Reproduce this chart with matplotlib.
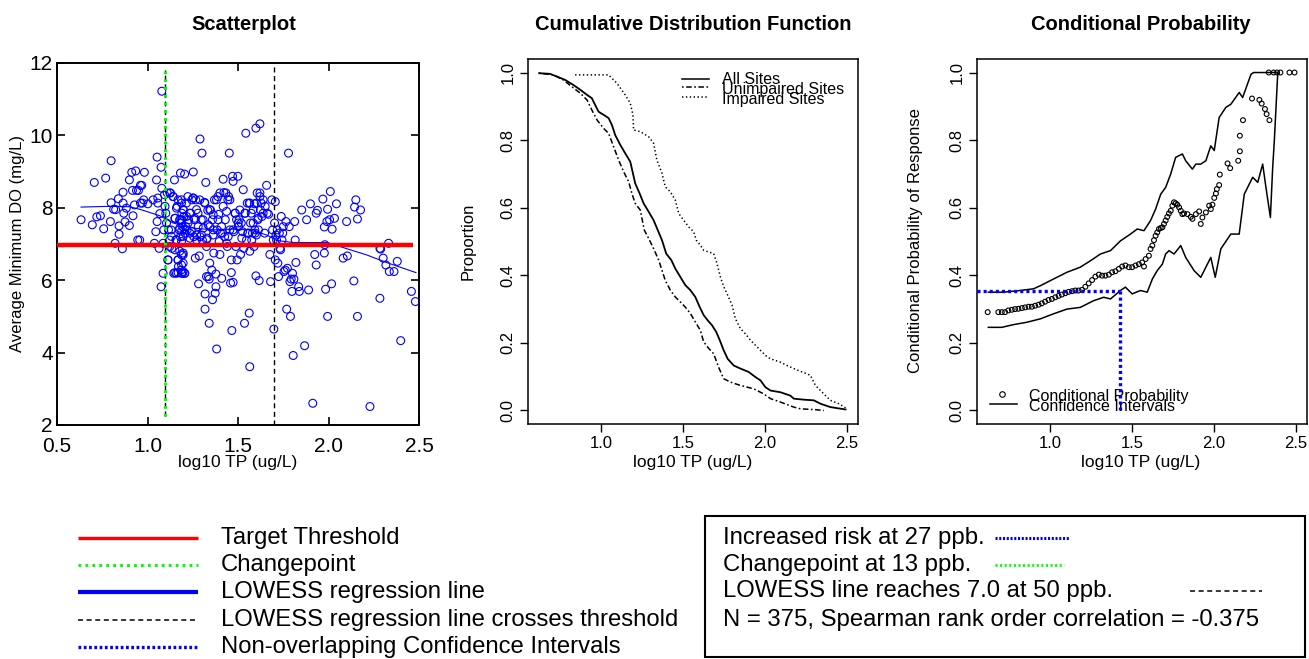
import matplotlib
matplotlib.use("Agg")
import matplotlib.pyplot as plt
from matplotlib.patches import Rectangle

plt.rcParams["font.family"] = ["Liberation Sans", "DejaVu Sans"]
plt.rcParams["lines.scale_dashes"] = False

# ---- Scatterplot data: log10 TP vs average minimum DO ----
tp_log = [
    0.633, 0.695, 0.706, 0.72, 0.74, 0.758, 0.769, 0.799, 0.799, 0.795, 0.813, 0.824, 0.821,
    0.839, 0.843, 0.843, 0.861, 0.865, 0.865, 0.869, 0.876, 0.883, 0.90, 0.90, 0.913, 0.917,
    0.92, 0.928, 0.935, 0.939, 0.946, 0.95, 0.957, 0.961, 0.961, 0.968, 0.972, 0.979, 0.983,
    1.002, 1.031, 1.038, 1.046, 1.05, 1.053, 1.053, 1.057, 1.057, 1.064, 1.068, 1.075, 1.075,
    1.079, 1.079, 1.086, 1.086, 1.09, 1.094, 1.097, 1.101, 1.105, 1.109, 1.112, 1.116, 1.123,
    1.127, 1.131, 1.134, 1.142, 1.145, 1.149, 1.153, 1.157, 1.16, 1.164, 1.168, 1.171, 1.175,
    1.179, 1.182, 1.182, 1.186, 1.19, 1.194, 1.194, 1.197, 1.201, 1.205, 1.205, 1.208, 1.212,
    1.216, 1.219, 1.223, 1.227, 1.234, 1.238, 1.245, 1.253, 1.253, 1.256, 1.26, 1.264, 1.267,
    1.271, 1.279, 1.282, 1.286, 1.29, 1.29, 1.297, 1.301, 1.304, 1.308, 1.315, 1.318, 1.318,
    1.322, 1.326, 1.326, 1.33, 1.333, 1.337, 1.341, 1.341, 1.344, 1.344, 1.348, 1.355, 1.359,
    1.359, 1.363, 1.366, 1.37, 1.374, 1.378, 1.378, 1.382, 1.385, 1.389, 1.393, 1.396, 1.40,
    1.404, 1.41, 1.414, 1.418, 1.422, 1.426, 1.43, 1.433, 1.437, 1.441, 1.444, 1.448, 1.452,
    1.455, 1.459, 1.463, 1.463, 1.466, 1.47, 1.473, 1.473, 1.477, 1.485, 1.488, 1.492, 1.495,
    1.499, 1.503, 1.507, 1.51, 1.514, 1.518, 1.521, 1.525, 1.529, 1.532, 1.536, 1.54, 1.543,
    1.547, 1.551, 1.554, 1.562, 1.562, 1.565, 1.565, 1.569, 1.573, 1.576, 1.58, 1.584, 1.588,
    1.591, 1.595, 1.599, 1.599, 1.602, 1.606, 1.61, 1.613, 1.617, 1.621, 1.621, 1.624, 1.628,
    1.632, 1.639, 1.647, 1.65, 1.658, 1.661, 1.669, 1.676, 1.68, 1.687, 1.691, 1.695, 1.698,
    1.702, 1.706, 1.706, 1.71, 1.713, 1.717, 1.72, 1.724, 1.728, 1.732, 1.735, 1.739, 1.743,
    1.747, 1.75, 1.754, 1.761, 1.765, 1.769, 1.773, 1.779, 1.783, 1.787, 1.79, 1.794, 1.798,
    1.801, 1.805, 1.809, 1.813, 1.816, 1.82, 1.835, 1.839, 1.852, 1.868, 1.879, 1.89, 1.90,
    1.913, 1.924, 1.932, 1.932, 1.939, 1.969, 1.977, 1.977, 1.98, 1.984, 1.991, 1.995, 1.995,
    2.006, 2.01, 2.017, 2.02, 2.033, 2.044, 2.081, 2.10, 2.104, 2.14, 2.144, 2.151, 2.16, 2.16,
    2.177, 2.229, 2.284, 2.284, 2.288, 2.302, 2.317, 2.332, 2.336, 2.362, 2.38, 2.399, 2.458,
    2.48,
    # dense cluster near the changepoint
    1.123, 1.141, 1.169, 1.188, 1.160, 1.197, 1.151, 1.178, 1.188, 1.178, 1.188, 1.132, 1.160,
    1.188, 1.123, 1.151, 1.178, 1.197, 1.169, 1.188, 1.197, 1.151, 1.169, 1.114,
    1.188, 1.215, 1.252, 1.197, 1.234, 1.271, 1.188, 1.224, 1.261, 1.206, 1.243, 1.280, 1.197,
    1.234, 1.271, 1.188, 1.197, 1.188, 1.206, 1.289, 1.317, 1.344, 1.363, 1.307, 1.335, 1.363,
    1.298, 1.326, 1.381, 1.400, 1.418, 1.437, 1.455, 1.483, 1.501, 1.473, 1.446, 1.409, 1.390,
    1.538, 1.565, 1.584, 1.611, 1.621, 1.639, 1.593, 1.556, 1.602,
]
do_min = [
    7.67, 7.53, 8.70, 7.75, 7.78, 7.42, 8.82, 9.30, 8.14, 7.62, 7.96, 7.95, 7.02,
    8.25, 7.50, 7.27, 6.87, 8.43, 8.13, 7.85, 7.61, 7.99, 8.77, 7.51, 8.98, 8.48,
    7.78, 8.08, 9.02, 8.48, 7.11, 8.48, 7.11, 8.62, 8.13, 8.62, 8.13, 8.22, 8.98,
    8.11, 8.22, 7.02, 7.34, 8.77, 7.62, 9.40, 8.13, 8.27, 6.88, 7.84, 9.12, 5.82,
    11.22, 8.54, 7.02, 6.19, 7.39, 8.36, 8.04, 7.85, 7.58, 8.41, 6.56, 7.39, 7.11,
    8.41, 7.39, 6.88, 8.31, 6.19, 8.77, 7.71, 7.11, 6.19, 8.04, 6.56, 6.38, 7.39,
    7.67, 8.96, 7.20, 6.28, 7.85, 7.48, 6.19, 6.75, 7.76, 8.93, 6.19, 7.30, 7.48,
    7.76, 7.39, 8.31, 7.67, 7.30, 7.85, 8.22, 8.99, 8.27, 7.20, 7.67, 6.61, 8.22,
    7.11, 7.85, 5.90, 6.67, 9.90, 7.20, 7.67, 9.51, 7.10, 7.44, 8.15, 5.62, 5.20,
    8.70, 6.10, 6.93, 7.16, 7.93, 6.10, 6.03, 4.81, 7.48, 6.47, 7.94, 6.28, 7.67,
    5.46, 7.25, 6.75, 8.22, 5.64, 5.82, 6.17, 4.10, 7.39, 8.31, 7.82, 7.07, 6.71,
    7.30, 6.05, 7.30, 8.79, 8.42, 7.20, 7.67, 8.41, 7.02, 6.93, 8.22, 8.31, 9.51,
    7.39, 5.92, 6.21, 6.56, 4.61, 8.87, 8.73, 5.94, 7.34, 7.85, 6.93, 7.67, 6.56,
    8.87, 7.48, 7.67, 7.94, 6.71, 7.58, 7.16, 7.34, 8.50, 6.88, 4.81, 7.85, 10.06,
    7.11, 8.13, 7.30, 5.09, 8.13, 6.80, 3.61, 7.58, 7.85, 7.11, 7.30, 7.58, 6.93,
    8.11, 7.30, 10.20, 6.12, 8.13, 8.41, 7.67, 7.39, 5.99, 10.32, 8.31, 7.94, 8.13,
    7.76, 7.85, 7.30, 8.04, 8.62, 7.85, 7.82, 6.71, 5.96, 8.22, 7.39, 7.11, 4.65,
    7.58, 8.17, 6.56, 7.25, 7.11, 7.39, 6.47, 6.10, 7.30, 6.88, 6.84, 7.76, 7.11,
    7.30, 7.48, 6.24, 6.28, 7.62, 5.20, 6.33, 9.51, 7.48, 5.96, 5.00, 6.03, 5.69,
    6.19, 3.92, 6.03, 7.62, 7.11, 6.49, 5.82, 5.69, 7.94, 4.19, 7.67, 5.73, 8.11,
    2.60, 6.71, 6.42, 7.85, 7.93, 8.24, 6.75, 7.47, 6.98, 5.75, 7.62, 5.00, 7.96,
    7.67, 8.45, 5.90, 7.41, 7.71, 8.11, 6.61, 7.62, 6.67, 5.98, 8.02, 8.22, 5.00, 7.69,
    7.94, 2.51, 5.50, 6.88, 6.86, 6.61, 6.42, 7.02, 6.24, 6.24, 6.52, 4.33, 5.69,
    5.41,
    8.41, 8.31, 8.22, 8.13, 7.99, 7.95, 7.71, 7.67, 7.58, 7.44, 7.35, 7.21, 7.12,
    7.07, 6.93, 6.84, 6.80, 6.70, 6.56, 6.42, 6.24, 6.21, 6.21, 6.56,
    8.22, 8.13, 8.27, 7.95, 7.85, 7.95, 7.67, 7.58, 7.71, 7.39, 7.35, 7.48, 7.21,
    7.16, 7.25, 6.70, 6.47, 6.19, 6.19, 8.22, 8.13, 7.95, 7.81, 7.67, 7.53, 7.39,
    7.25, 7.12, 8.22, 8.41, 8.04, 7.90, 8.22, 7.85, 7.58, 7.39, 7.21, 7.48, 7.67,
    7.85, 8.13, 7.95, 7.71, 8.41, 8.22, 7.39, 7.30, 7.25,
]

lowess_x = [0.633, 0.79, 0.90, 0.957, 1.068, 1.142, 1.253, 1.363, 1.473, 1.565, 1.658,
            1.713, 1.805, 1.995, 2.063, 2.21, 2.32, 2.483]
lowess_y = [8.02, 8.04, 8.03, 7.96, 7.78, 7.58, 7.44, 7.39, 7.41, 7.39, 7.25,
            7.10, 7.04, 7.04, 6.93, 6.70, 6.49, 6.21]

target_do = 6.97
target_x = [0.5, 2.465]
changepoint = 1.095
changepoint_span = [2.25, 11.8]
lowess_cross = 1.698

# ---- CDF data ----
all_x = [0.624, 0.691, 0.742, 0.783, 0.833, 0.874, 0.915, 0.945, 0.965, 0.986, 1.016, 1.047,
         1.067, 1.087, 1.118, 1.148, 1.179, 1.195, 1.209, 1.236, 1.260, 1.291, 1.321, 1.346,
         1.372, 1.398, 1.429, 1.453, 1.484, 1.514, 1.545, 1.575, 1.602, 1.626, 1.650, 1.677,
         1.703, 1.724, 1.748, 1.772, 1.809, 1.850, 1.900, 1.941, 1.972, 2.002, 2.033, 2.093,
         2.154, 2.175, 2.236, 2.297, 2.337, 2.398, 2.490]
all_y = [0.998, 0.996, 0.986, 0.978, 0.963, 0.949, 0.934, 0.924, 0.904, 0.884, 0.875, 0.865,
         0.845, 0.815, 0.786, 0.761, 0.736, 0.702, 0.672, 0.642, 0.613, 0.588, 0.563, 0.534,
         0.504, 0.464, 0.445, 0.420, 0.395, 0.371, 0.356, 0.336, 0.306, 0.282, 0.267, 0.252,
         0.232, 0.208, 0.178, 0.153, 0.133, 0.124, 0.114, 0.099, 0.089, 0.069, 0.059, 0.054,
         0.044, 0.035, 0.032, 0.030, 0.020, 0.010, 0.003]
unimp_x = [0.624, 0.711, 0.772, 0.823, 0.874, 0.915, 0.945, 0.976, 1.016, 1.047, 1.077, 1.108,
           1.138, 1.169, 1.189, 1.209, 1.240, 1.264, 1.291, 1.321, 1.352, 1.372, 1.392, 1.423,
           1.453, 1.484, 1.514, 1.545, 1.575, 1.606, 1.626, 1.656, 1.687, 1.717, 1.748, 1.789,
           1.850, 1.931, 1.992, 2.033, 2.093, 2.175, 2.215, 2.317, 2.358]
unimp_y = [0.998, 0.993, 0.978, 0.958, 0.939, 0.919, 0.889, 0.860, 0.835, 0.820, 0.781, 0.741,
           0.707, 0.677, 0.642, 0.613, 0.593, 0.534, 0.509, 0.479, 0.445, 0.415, 0.385, 0.356,
           0.336, 0.321, 0.306, 0.287, 0.262, 0.237, 0.203, 0.184, 0.168, 0.128, 0.094, 0.084,
           0.074, 0.064, 0.049, 0.035, 0.025, 0.010, 0.005, 0.002, 0.0]
imp_x = [0.843, 1.047, 1.098, 1.148, 1.179, 1.195, 1.199, 1.240, 1.291, 1.321, 1.341, 1.372,
         1.392, 1.423, 1.453, 1.474, 1.504, 1.535, 1.565, 1.581, 1.606, 1.626, 1.656, 1.687,
         1.707, 1.728, 1.748, 1.768, 1.799, 1.819, 1.850, 1.880, 1.911, 1.941, 1.972, 2.002,
         2.033, 2.093, 2.134, 2.175, 2.226, 2.276, 2.307, 2.358, 2.398, 2.449, 2.490]
imp_y = [0.993, 0.993, 0.968, 0.934, 0.909, 0.875, 0.830, 0.825, 0.810, 0.791, 0.741, 0.702,
         0.662, 0.647, 0.623, 0.583, 0.563, 0.543, 0.529, 0.504, 0.489, 0.474, 0.469, 0.464,
         0.435, 0.395, 0.366, 0.346, 0.311, 0.272, 0.242, 0.227, 0.208, 0.193, 0.178, 0.163,
         0.153, 0.143, 0.133, 0.124, 0.114, 0.104, 0.074, 0.049, 0.030, 0.020, 0.008]

# ---- Conditional probability data ----
cp_x = [0.621, 0.686, 0.707, 0.727, 0.747, 0.768, 0.788, 0.808, 0.829, 0.849, 0.870, 0.890,
        0.910, 0.931, 0.951, 0.971, 0.992, 1.012, 1.033, 1.053, 1.073, 1.094, 1.114, 1.135,
        1.155, 1.175, 1.196, 1.216, 1.236, 1.257, 1.277, 1.298, 1.318, 1.338, 1.359, 1.379,
        1.399, 1.420, 1.440, 1.460, 1.481, 1.501, 1.522, 1.542, 1.562, 1.573, 1.583, 1.603,
        1.613, 1.624, 1.634, 1.644, 1.654, 1.664, 1.675, 1.685, 1.695, 1.705, 1.715, 1.725,
        1.736, 1.746, 1.756, 1.766, 1.776, 1.787, 1.797, 1.807, 1.817, 1.838, 1.858, 1.868,
        1.889, 1.909, 1.919, 1.929, 1.950, 1.970, 1.980, 1.990, 2.001, 2.011, 2.017, 2.031,
        2.035, 2.082, 2.098, 2.147, 2.157, 2.157, 2.176, 2.231, 2.276, 2.290, 2.310, 2.320,
        2.337, 2.333, 2.363, 2.384, 2.404, 2.459, 2.490]
cp_y = [0.291, 0.291, 0.291, 0.291, 0.296, 0.298, 0.300, 0.301, 0.303, 0.305, 0.307, 0.307,
        0.310, 0.313, 0.317, 0.322, 0.327, 0.330, 0.335, 0.339, 0.343, 0.347, 0.351, 0.353,
        0.355, 0.355, 0.357, 0.366, 0.376, 0.386, 0.396, 0.402, 0.399, 0.399, 0.402, 0.409,
        0.412, 0.419, 0.426, 0.429, 0.424, 0.424, 0.429, 0.433, 0.438, 0.426, 0.448, 0.458,
        0.478, 0.488, 0.504, 0.517, 0.527, 0.537, 0.540, 0.542, 0.552, 0.562, 0.573, 0.583,
        0.591, 0.606, 0.616, 0.613, 0.609, 0.601, 0.591, 0.581, 0.583, 0.581, 0.573, 0.567,
        0.581, 0.589, 0.552, 0.571, 0.586, 0.606, 0.596, 0.609, 0.629, 0.642, 0.655, 0.667,
        0.698, 0.731, 0.717, 0.739, 0.767, 0.813, 0.859, 0.923, 0.919, 0.908, 0.892, 0.877,
        0.859, 1.0, 1.0, 1.0, 1.0, 1.0, 1.0]
ci_up_x = [0.625, 0.717, 0.819, 0.900, 0.941, 1.022, 1.104, 1.185, 1.247, 1.308, 1.369, 1.430,
           1.491, 1.532, 1.573, 1.613, 1.644, 1.675, 1.705, 1.736, 1.766, 1.807, 1.827, 1.868,
           1.889, 1.919, 1.950, 1.980, 2.001, 2.031, 2.072, 2.102, 2.153, 2.174, 2.225, 2.241,
           2.378]
ci_up_y = [0.350, 0.350, 0.355, 0.360, 0.369, 0.389, 0.409, 0.424, 0.443, 0.463, 0.473, 0.502,
           0.522, 0.537, 0.532, 0.562, 0.596, 0.640, 0.660, 0.700, 0.749, 0.759, 0.739, 0.714,
           0.729, 0.729, 0.739, 0.783, 0.769, 0.867, 0.897, 0.906, 0.941, 0.926, 0.995, 1.0,
           1.0]
ci_lo_x = [0.625, 0.707, 0.778, 0.859, 0.941, 1.022, 1.104, 1.185, 1.267, 1.328, 1.369, 1.430,
           1.460, 1.501, 1.552, 1.593, 1.624, 1.654, 1.685, 1.705, 1.726, 1.756, 1.797, 1.827,
           1.878, 1.919, 1.950, 1.980, 2.007, 2.041, 2.102, 2.153, 2.184, 2.235, 2.266, 2.296,
           2.316, 2.343, 2.357, 2.367, 2.388]
ci_lo_y = [0.246, 0.246, 0.254, 0.261, 0.271, 0.286, 0.300, 0.305, 0.325, 0.335, 0.330, 0.355,
           0.365, 0.345, 0.355, 0.350, 0.389, 0.414, 0.433, 0.463, 0.473, 0.463, 0.488, 0.453,
           0.414, 0.394, 0.424, 0.453, 0.394, 0.478, 0.522, 0.522, 0.640, 0.690, 0.675, 0.729,
           0.660, 0.571, 0.719, 0.798, 1.0]

risk_x = 1.426
risk_y = 0.354

W, H = 1309, 659
fig = plt.figure(figsize=(W / 100, H / 100), dpi=100)


def px_axes(left, top, right, bottom):
    return fig.add_axes([left / W, 1 - bottom / H, (right - left) / W, (bottom - top) / H])


blue = "#0000FF"
green = "#00FF00"
dash_unimp = (0, (1.2, 1.8, 4.0, 1.8))
dot_imp = (0, (1.0, 1.8))

# ---------------- Scatterplot ----------------
ax1 = px_axes(57, 63, 419, 425)
ax1.scatter(tp_log, do_min, s=32, facecolors="none", edgecolors=blue, linewidths=0.8, zorder=3)
ax1.plot(lowess_x, lowess_y, color=blue, lw=0.8, zorder=4)
ax1.plot(target_x, [target_do, target_do], color="red", lw=3.2, solid_capstyle="butt", zorder=5)
ax1.vlines(changepoint, *changepoint_span, color="black", lw=1.0, linestyles=[(0, (3.6, 2.6))], zorder=5)
ax1.vlines(changepoint, *changepoint_span, color=green, lw=2.2, linestyles=[(0, (2.0, 3.6))], zorder=6)
ax1.axvline(lowess_cross, color="black", lw=1.0, linestyle=(0, (3.6, 2.6)), zorder=5)
ax1.set_xlim(0.5, 2.5)
ax1.set_ylim(2, 12)
ax1.set_xticks([0.5, 1.0, 1.5, 2.0, 2.5])
ax1.set_xticklabels(["0.5", "1.0", "1.5", "2.0", "2.5"])
ax1.set_yticks([2, 4, 6, 8, 10, 12])
ax1.tick_params(direction="in", length=5.5, width=1.2, labelsize=15, top=True, right=True)
ax1.tick_params(axis="x", pad=9)
ax1.tick_params(axis="y", pad=3)
for s in ax1.spines.values():
    s.set_linewidth(1.4)

# ---------------- CDF ----------------
ax2 = px_axes(528, 59, 858, 424)
ax2.plot(all_x, all_y, color="black", lw=1.3)
ax2.plot(unimp_x, unimp_y, color="black", lw=1.1, linestyle=dash_unimp)
ax2.plot(imp_x, imp_y, color="black", lw=1.1, linestyle=dot_imp)

# ---------------- Conditional probability ----------------
ax3 = px_axes(977, 59, 1307, 424)
ax3.plot(ci_up_x, ci_up_y, color="black", lw=1.1)
ax3.plot(ci_lo_x, ci_lo_y, color="black", lw=1.1)
ax3.scatter(cp_x, cp_y, s=12, facecolors="none", edgecolors="black", linewidths=0.8, zorder=3)

for ax in (ax2, ax3):
    ax.set_xlim(0.556, 2.566)
    ax.set_ylim(-0.04, 1.04)
    ax.set_xticks([1.0, 1.5, 2.0, 2.5])
    ax.set_xticklabels(["1.0", "1.5", "2.0", "2.5"])
    ax.set_yticks([0, 0.2, 0.4, 0.6, 0.8, 1.0])
    ax.set_yticklabels(["0.0", "0.2", "0.4", "0.6", "0.8", "1.0"], rotation=90, va="center")
    ax.tick_params(direction="out", length=6, width=1.0, labelsize=12, pad=3)
    for s in ax.spines.values():
        s.set_linewidth(1.1)

x0 = ax3.get_xlim()[0]
ax3.plot([x0, risk_x], [risk_y, risk_y], color=blue, lw=2.4, linestyle=(0, (2.2, 2.2)), zorder=5)
ax3.plot([risk_x, risk_x], [risk_y, 0.0], color=blue, lw=2.4, linestyle=(0, (2.2, 2.2)), zorder=5)

# in-panel legends (R style, tightly stacked rows)
cdf_styles = [("-", "All Sites"), (dash_unimp, "Unimpaired Sites"), (dot_imp, "Impaired Sites")]
for (ls, lab), ly, ty in zip(cdf_styles, [0.946, 0.922, 0.895], [0.944, 0.917, 0.888]):
    ax2.plot([0.467, 0.548], [ly, ly], transform=ax2.transAxes, color="black", lw=1.1, linestyle=ls)
    ax2.text(0.588, ty, lab, transform=ax2.transAxes, fontsize=11.5, va="center", ha="left")

ax3.plot([0.0758], [0.0822], transform=ax3.transAxes, marker="o", ms=4, mfc="none", mec="black", mew=0.8)
ax3.plot([0.0394, 0.1212], [0.0548, 0.0548], transform=ax3.transAxes, color="black", lw=1.1)
ax3.text(0.1576, 0.0749, "Conditional Probability", transform=ax3.transAxes, fontsize=11.5, va="center")
ax3.text(0.1576, 0.0474, "Confidence Intervals", transform=ax3.transAxes, fontsize=11.5, va="center")

# titles and axis labels
for cx, title in [(244, "Scatterplot"), (693, "Cumulative Distribution Function"),
                  (1141, "Conditional Probability")]:
    fig.text(cx / W, 1 - 24 / H, title, fontsize=14.5, fontweight="bold", ha="center", va="center")
for cx in (238, 693, 1141):
    fig.text(cx / W, 1 - 463 / H, "log10 TP (ug/L)", fontsize=12.5, ha="center", va="center")
for cx, cy, lab in [(18, 244, "Average Minimum DO (mg/L)"), (468, 241, "Proportion"),
                    (915, 241, "Conditional Probability of Response")]:
    fig.text(cx / W, 1 - cy / H, lab, fontsize=12, rotation=90, ha="center", va="center")

# ---------------- bottom legends (pixel coordinates) ----------------
lax = fig.add_axes([0, 0, 1, 160 / H])
lax.set_xlim(0, W)
lax.set_ylim(H, H - 160)
lax.axis("off")

legend_rows = [
    ("Target Threshold", dict(color="red", lw=2.4)),
    ("Changepoint", dict(color=green, lw=2.2, linestyle=(0, (2.0, 3.0)))),
    ("LOWESS regression line", dict(color=blue, lw=3.0)),
    ("LOWESS regression line crosses threshold", dict(color="black", lw=1.1, linestyle=(0, (3.6, 2.6)))),
    ("Non-overlapping Confidence Intervals", dict(color=blue, lw=2.4, linestyle=(0, (2.0, 1.8)))),
]
row_y = [538, 565, 592, 620, 647]
for (lab, style), y in zip(legend_rows, row_y):
    lax.plot([78, 198], [y, y], solid_capstyle="butt", **style)
    lax.text(221, y, lab, fontsize=17.2, ha="left", va="center")

lax.add_patch(Rectangle((705, 516), 600, 141, fill=False, edgecolor="black", lw=1.5))
box_rows = [
    ("Increased risk at 27 ppb.", [995, 1069], dict(color=blue, lw=2.2, linestyle=(0, (1.5, 1.2)))),
    ("Changepoint at 13 ppb.", [995, 1064], dict(color=green, lw=2.0, linestyle=(0, (1.5, 1.8)))),
    ("LOWESS line reaches 7.0 at 50 ppb.", [1190, 1262], dict(color="black", lw=1.1, linestyle=(0, (3.6, 2.6)))),
    ("N = 375, Spearman rank order correlation = -0.375", None, None),
]
for (lab, seg, style), y in zip(box_rows, [538, 565, 591, 620]):
    lax.text(723, y, lab, fontsize=17.2, ha="left", va="center")
    if seg is not None:
        lax.plot(seg, [y, y], **style)

fig.savefig("out.png", dpi=100)
